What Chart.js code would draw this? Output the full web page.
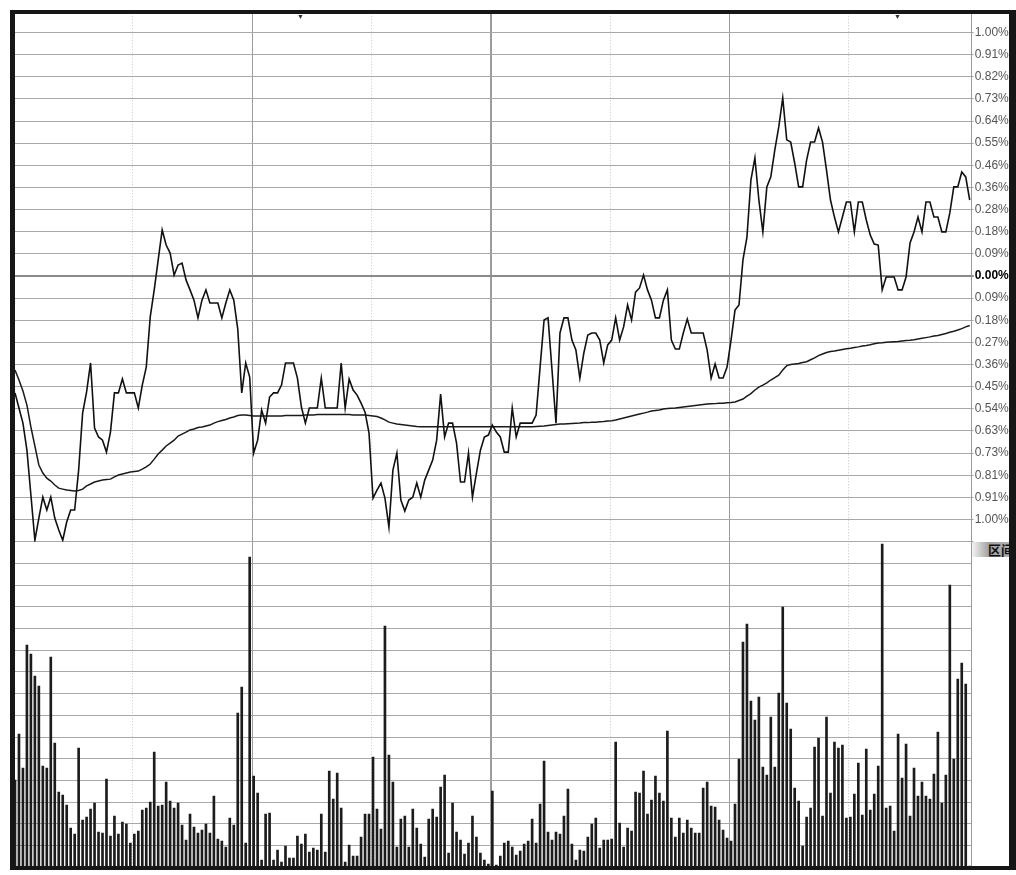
<!DOCTYPE html>
<html>
<head>
<meta charset="utf-8">
<script src="https://cdn.jsdelivr.net/npm/chart.js"></script>
<style>
  html, body { margin: 0; padding: 0; background: #fff; }
  body { width: 1016px; height: 875px; position: relative; overflow: hidden; }
  #wrap { position: absolute; left: 10px; top: 10px; width: 999px; height: 865px; }
  .band { position: absolute; background: #161616; }
  #tag {
    position: absolute; left: 972px; top: 542px; width: 37px; height: 15px;
    background: linear-gradient(to right, #f4f4f4, #a2a2a2 45%, #b2b2b2);
    font: bold 13px "Noto Sans CJK SC", sans-serif; line-height: 15px; color: #111;
    padding-left: 16px; box-sizing: border-box; white-space: nowrap; overflow: hidden;
  }
  .mark { position: absolute; font-size: 7px; line-height: 7px; color: #333; }
</style>
</head>
<body>
<div id="wrap"><canvas id="myChart" width="999" height="865"></canvas></div>
<div id="tag">区间</div>
<div class="mark" style="left:297px;top:14px">▼</div>
<div class="mark" style="left:894px;top:14px">▼</div>
<div class="band" style="left:10px;top:10px;width:1006px;height:4px"></div>
<div class="band" style="left:10px;top:10px;width:5px;height:860px"></div>
<div class="band" style="left:1009px;top:10px;width:7px;height:860px"></div>
<div class="band" style="left:10px;top:866px;width:1006px;height:4px"></div>
<script>
// 分时: change vs previous close (%), one value per minute
const priceChange = [
  -0.480,-0.542,-0.604,-0.715,-0.899,-1.085,-0.994,-0.908,-0.961,-0.908,
  -0.994,-1.043,-1.085,-1.010,-0.961,-0.961,-0.797,-0.563,-0.476,-0.357,
  -0.624,-0.661,-0.674,-0.723,-0.641,-0.480,-0.480,-0.423,-0.480,-0.480,
  -0.480,-0.542,-0.448,-0.374,-0.168,-0.057,0.066,0.189,0.127,0.094,
  0.004,0.045,0.053,-0.016,-0.057,-0.099,-0.172,-0.099,-0.057,-0.111,
  -0.111,-0.111,-0.172,-0.111,-0.057,-0.099,-0.218,-0.480,-0.357,-0.415,
  -0.727,-0.674,-0.550,-0.604,-0.497,-0.480,-0.480,-0.448,-0.357,-0.357,
  -0.357,-0.419,-0.538,-0.604,-0.542,-0.542,-0.542,-0.419,-0.542,-0.542,
  -0.542,-0.542,-0.357,-0.542,-0.423,-0.468,-0.489,-0.522,-0.559,-0.645,
  -0.912,-0.879,-0.850,-0.912,-1.031,-0.797,-0.727,-0.920,-0.965,-0.920,
  -0.908,-0.850,-0.908,-0.838,-0.797,-0.756,-0.674,-0.485,-0.661,-0.604,
  -0.604,-0.686,-0.846,-0.846,-0.727,-0.908,-0.809,-0.715,-0.661,-0.653,
  -0.612,-0.641,-0.661,-0.723,-0.723,-0.542,-0.661,-0.604,-0.604,-0.604,
  -0.604,-0.571,-0.374,-0.181,-0.172,-0.386,-0.604,-0.234,-0.172,-0.172,
  -0.263,-0.304,-0.419,-0.316,-0.242,-0.234,-0.234,-0.263,-0.357,-0.283,
  -0.263,-0.172,-0.263,-0.209,-0.119,-0.181,-0.066,-0.049,0.004,-0.057,
  -0.099,-0.172,-0.172,-0.099,-0.057,-0.263,-0.300,-0.300,-0.234,-0.177,
  -0.234,-0.234,-0.234,-0.234,-0.304,-0.419,-0.361,-0.419,-0.419,-0.374,
  -0.263,-0.140,-0.119,0.066,0.160,0.394,0.485,0.312,0.181,0.366,
  0.407,0.517,0.612,0.731,0.559,0.550,0.464,0.366,0.366,0.476,
  0.550,0.550,0.608,0.550,0.435,0.312,0.242,0.181,0.242,0.304,
  0.304,0.181,0.304,0.304,0.230,0.168,0.131,0.127,-0.057,-0.004,
  -0.004,-0.004,-0.057,-0.057,-0.004,0.136,0.181,0.242,0.181,0.304,
  0.304,0.242,0.242,0.181,0.181,0.259,0.366,0.366,0.427,0.407,
  0.312
]

// 均价线 (%)
const avgPrice = [
  -0.386,-0.427,-0.472,-0.530,-0.620,-0.698,-0.776,-0.809,-0.830,-0.842,
  -0.858,-0.871,-0.875,-0.879,-0.881,-0.883,-0.881,-0.875,-0.862,-0.854,
  -0.846,-0.842,-0.838,-0.836,-0.834,-0.825,-0.817,-0.813,-0.809,-0.805,
  -0.803,-0.801,-0.793,-0.784,-0.772,-0.752,-0.731,-0.715,-0.698,-0.686,
  -0.674,-0.657,-0.649,-0.641,-0.632,-0.628,-0.622,-0.620,-0.616,-0.612,
  -0.604,-0.598,-0.593,-0.589,-0.583,-0.579,-0.573,-0.571,-0.571,-0.573,
  -0.575,-0.575,-0.575,-0.575,-0.575,-0.575,-0.575,-0.575,-0.573,-0.573,
  -0.573,-0.573,-0.573,-0.571,-0.571,-0.571,-0.569,-0.569,-0.569,-0.569,
  -0.569,-0.569,-0.569,-0.569,-0.569,-0.571,-0.571,-0.571,-0.571,-0.573,
  -0.575,-0.577,-0.583,-0.591,-0.600,-0.604,-0.608,-0.610,-0.612,-0.614,
  -0.616,-0.618,-0.619,-0.619,-0.619,-0.619,-0.619,-0.619,-0.619,-0.619,
  -0.619,-0.619,-0.619,-0.619,-0.619,-0.619,-0.619,-0.619,-0.619,-0.619,
  -0.619,-0.619,-0.619,-0.619,-0.619,-0.619,-0.619,-0.619,-0.619,-0.619,
  -0.619,-0.618,-0.617,-0.616,-0.614,-0.612,-0.610,-0.608,-0.608,-0.607,
  -0.606,-0.605,-0.604,-0.602,-0.602,-0.600,-0.600,-0.598,-0.597,-0.595,
  -0.594,-0.591,-0.587,-0.583,-0.579,-0.575,-0.571,-0.567,-0.563,-0.559,
  -0.554,-0.552,-0.550,-0.546,-0.544,-0.543,-0.542,-0.540,-0.538,-0.536,
  -0.534,-0.532,-0.530,-0.528,-0.526,-0.525,-0.524,-0.522,-0.522,-0.520,
  -0.519,-0.517,-0.511,-0.505,-0.493,-0.483,-0.468,-0.456,-0.448,-0.439,
  -0.427,-0.417,-0.407,-0.386,-0.368,-0.363,-0.361,-0.359,-0.355,-0.352,
  -0.344,-0.336,-0.327,-0.320,-0.314,-0.310,-0.308,-0.305,-0.302,-0.299,
  -0.297,-0.294,-0.291,-0.287,-0.285,-0.282,-0.278,-0.275,-0.274,-0.272,
  -0.271,-0.270,-0.269,-0.267,-0.265,-0.264,-0.262,-0.259,-0.256,-0.253,
  -0.250,-0.246,-0.244,-0.240,-0.236,-0.231,-0.227,-0.222,-0.216,-0.209,
  -0.203
]

// 成交量 per minute
const volume = [
  87,133,99,222,213,191,181,101,99,210,
  124,75,72,62,39,33,119,47,50,58,
  64,35,34,88,31,51,33,45,43,24,
  33,36,57,59,65,115,61,62,85,66,
  59,64,42,27,53,40,34,37,43,34,
  71,28,26,20,49,42,154,180,24,310,
  91,74,7,53,54,7,17,5,21,9,
  9,31,23,33,15,19,17,53,15,96,
  68,94,59,5,22,11,11,30,53,53,
  110,58,38,241,112,85,20,48,51,20,
  58,39,23,10,48,58,50,80,92,14,
  64,35,27,13,24,51,30,14,7,3,
  76,2,11,24,26,20,12,16,23,26,
  48,24,63,106,35,27,35,33,51,78,
  23,7,17,16,30,43,49,19,27,27,
  28,125,44,20,39,36,75,74,96,53,
  67,91,74,66,136,49,30,49,34,47,
  39,34,34,79,85,61,60,47,37,29,
  26,63,108,225,243,166,147,170,100,92,
  150,100,174,260,164,138,79,66,21,50,
  59,120,129,51,150,74,125,119,122,49,
  50,73,104,52,118,57,73,101,323,59,
  61,36,133,89,123,51,99,71,85,71,
  68,93,135,64,92,282,108,188,204,183,
  1
]

// right axis, top to bottom
const priceTickLabels = [
  '1.09%','1.00%','0.91%','0.82%','0.73%','0.64%','0.55%','0.46%','0.36%','0.28%','0.18%','0.09%',
  '0.00%',
  '0.09%','0.18%','0.27%','0.36%','0.45%','0.54%','0.63%','0.73%','0.81%','0.91%','1.00%',''
]

// half-hour lines, minutes from open
const timeGrid = [30, 60, 90, 120, 150, 180, 210]

const priceStep = 1 / 11
const volumeStep = 21.7
const axisFont = '"Liberation Sans", Arial, sans-serif'

const toPoints = arr => arr.map((v, i) => ({ x: i, y: v }))

const config = {
  type: 'line',
  data: {
    datasets: [
      {
        label: '价格',
        data: toPoints(priceChange),
        yAxisID: 'y',
        borderColor: '#111',
        borderWidth: 1.6,
        pointRadius: 0,
        tension: 0
      },
      {
        label: '均价',
        data: toPoints(avgPrice),
        yAxisID: 'y',
        borderColor: '#1a1a1a',
        borderWidth: 1.5,
        pointRadius: 0,
        tension: 0
      },
      {
        type: 'bar',
        label: '成交量',
        data: toPoints(volume),
        yAxisID: 'yv',
        backgroundColor: '#1c1c1c',
        barThickness: 2
      }
    ]
  },
  options: {
    responsive: false,
    animation: false,
    devicePixelRatio: 1,
    layout: { padding: { left: 3, top: 0.3, right: 0, bottom: 7.8 } },
    plugins: { legend: { display: false }, tooltip: { enabled: false } },
    scales: {
      x: {
        type: 'linear',
        offset: false,
        min: -0.5,
        max: 240.5,
        afterBuildTicks: s => { s.ticks = timeGrid.map(t => ({ value: t - 0.4 })) },
        afterFit: s => { s.height = 0 },
        ticks: { display: false },
        grid: {
          offset: false,
          drawTicks: false,
          color: ctx => ctx.index % 2 === 0 ? '#c4c4c4' : '#9c9c9c',
          lineWidth: ctx => ctx.index === 3 ? 2 : 1
        },
        border: {
          display: false,
          dash: ctx => ctx.index % 2 === 0 ? [1, 2] : []
        }
      },
      y: {
        type: 'linear',
        position: 'right',
        stack: 'pane',
        stackWeight: 531.4,
        min: -12 * priceStep,
        max: 12 * priceStep,
        afterBuildTicks: s => {
          s.ticks = priceTickLabels.map((_, i) => ({ value: (i - 12) * priceStep }))
        },
        afterFit: s => { s.width = 37.3; s.paddingTop = 0; s.paddingBottom = 0 },
        ticks: {
          autoSkip: false,
          padding: 1,
          color: ctx => ctx.index === 12 ? '#000' : '#555',
          font: ctx => ({ family: axisFont, size: 12, weight: ctx.index === 12 ? 'bold' : 'normal' }),
          callback: (v, i) => priceTickLabels[priceTickLabels.length - 1 - i]
        },
        grid: {
          tickLength: 2,
          color: ctx => ctx.index === 12 ? '#8a8a8a' : '#a8a8a8',
          lineWidth: ctx => ctx.index === 12 ? 2 : 1
        },
        border: { color: '#9a9a9a', width: 1 }
      },
      yv: {
        type: 'linear',
        position: 'right',
        stack: 'pane',
        stackWeight: 325.5,
        min: 0,
        max: 15 * volumeStep,
        afterBuildTicks: s => {
          s.ticks = Array.from({ length: 16 }, (_, k) => ({ value: k * volumeStep }))
        },
        afterFit: s => { s.width = 37.3; s.paddingTop = 0; s.paddingBottom = 0 },
        ticks: { display: false },
        grid: { drawTicks: false, color: '#a8a8a8' },
        border: { color: '#9a9a9a', width: 1 }
      }
    }
  }
}

const myChart = new Chart(document.getElementById('myChart'), config)
</script>
</body>
</html>
